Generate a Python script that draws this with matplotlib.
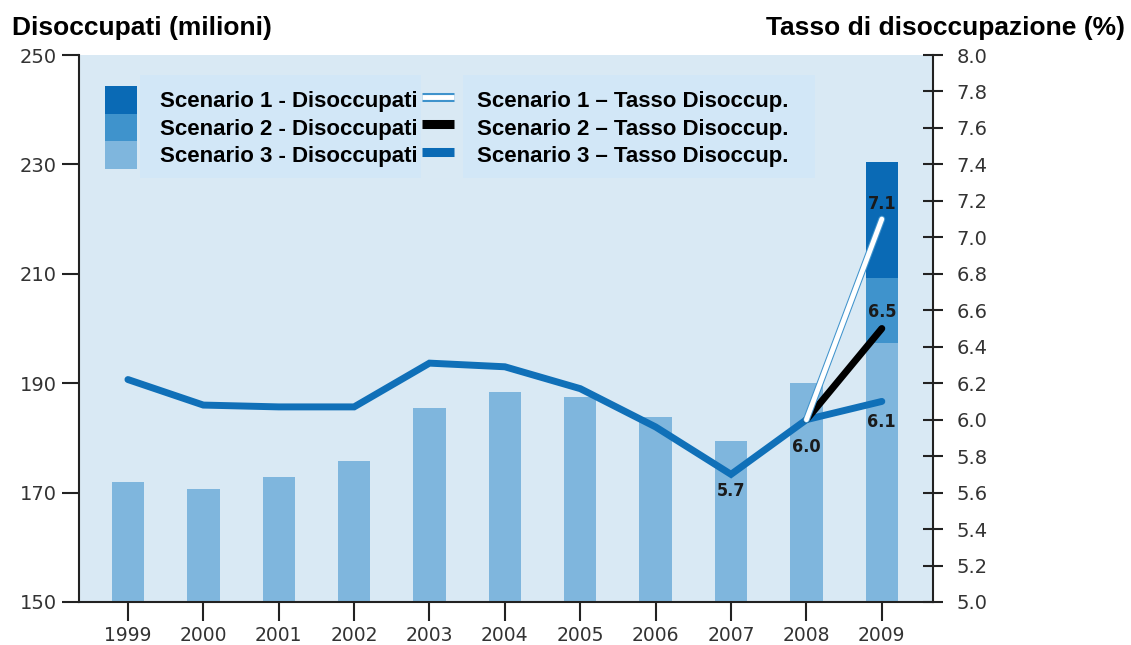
import matplotlib
matplotlib.use("Agg")
import matplotlib.pyplot as plt
import matplotlib.patheffects as pe
from matplotlib.patches import Patch, Rectangle
from matplotlib.lines import Line2D

# dati
anni = ['1999', '2000', '2001', '2002', '2003', '2004', '2005', '2006', '2007', '2008', '2009']
disocc_s3 = [172.0, 170.6, 172.8, 175.7, 185.4, 188.3, 187.4, 183.8, 179.5, 190.1, 197.4]
disocc_s2_2009 = 209.3
disocc_s1_2009 = 230.4
tasso_s3 = [6.22, 6.08, 6.07, 6.07, 6.31, 6.29, 6.17, 5.96, 5.70, 6.00, 6.10]
tasso_s2 = [6.00, 6.50]   # 2008-2009
tasso_s1 = [6.00, 7.10]   # 2008-2009

bg = '#d9e9f4'
boxbg = '#d2e7f7'
c1 = '#0a6ab5'
c2 = '#3f93cc'
c3 = '#7fb6dd'
cline = '#1070b8'
ink = '#222222'

fig = plt.figure(figsize=(11.31, 6.45), dpi=100)
ax = fig.add_axes([0.0698, 0.0667, 0.7552, 0.848])
ax.set_facecolor(bg)

# riquadri chiari dietro la legenda
ax.add_patch(Rectangle((0.0714, 0.775), 0.3286, 0.188, transform=ax.transAxes,
                       facecolor=boxbg, edgecolor='none', zorder=1))
ax.add_patch(Rectangle((0.4497, 0.775), 0.4121, 0.188, transform=ax.transAxes,
                       facecolor=boxbg, edgecolor='none', zorder=1))

x = list(range(len(anni)))
w = 0.43
ax.bar(x[-1], disocc_s1_2009, width=w, color=c1, zorder=2)
ax.bar(x[-1], disocc_s2_2009, width=w, color=c2, zorder=2)
ax.bar(x, disocc_s3, width=w, color=c3, zorder=2)

ax.set_xlim(-0.65, 10.68)
ax.set_ylim(150, 250)
ax.set_yticks([150, 170, 190, 210, 230, 250])
ax.set_xticks(x)
ax.set_xticklabels(anni)
ax.tick_params(axis='y', direction='out', length=12, width=1.5, color=ink,
               labelsize=14, labelcolor='#333333', pad=4)
ax.tick_params(axis='x', direction='out', length=14, width=1.5, color=ink,
               labelsize=13.5, labelcolor='#333333', pad=3)
for s in ['top', 'right']:
    ax.spines[s].set_visible(False)
for s in ['left', 'bottom']:
    ax.spines[s].set_linewidth(1.5)
    ax.spines[s].set_color(ink)

ax2 = ax.twinx()
ax2.set_ylim(5.0, 8.0)
ax2.set_yticks([5.0 + 0.2 * i for i in range(16)])
ax2.set_yticklabels(['%.1f' % (5.0 + 0.2 * i) for i in range(16)])
ax2.tick_params(axis='y', direction='inout', length=14, width=1.5, color=ink,
                labelsize=14, labelcolor='#333333', pad=10)
for s in ['top', 'left', 'bottom']:
    ax2.spines[s].set_visible(False)
ax2.spines['right'].set_linewidth(1.5)
ax2.spines['right'].set_color(ink)

ax2.plot(x, tasso_s3, color=cline, lw=5, solid_capstyle='round',
         solid_joinstyle='miter', zorder=3)
ax2.plot(x[-2:], tasso_s2, color='black', lw=5, solid_capstyle='round', zorder=4)
ax2.plot(x[-2:], tasso_s1, color='white', lw=3.5, solid_capstyle='round', zorder=5,
         path_effects=[pe.Stroke(linewidth=5, foreground=c2), pe.Normal()])

lab_font = dict(fontsize=13, fontweight='bold', color='#1a1a1a', fontstretch='condensed',
                family=['Liberation Sans Narrow', 'DejaVu Sans'])
etichette = [(10, tasso_s1[1], '7.1', 15), (10, tasso_s2[1], '6.5', 16),
             (10, tasso_s3[10], '6.1', -21), (9, tasso_s3[9], '6.0', -27),
             (8, tasso_s3[8], '5.7', -17)]
for xi, yi, t, dy in etichette:
    ax2.annotate(t, (xi, yi), xytext=(0, dy), textcoords='offset pixels',
                 ha='center', va='center', zorder=6, **lab_font)

handles = [
    Patch(facecolor=c1, edgecolor='none'),
    Patch(facecolor=c2, edgecolor='none'),
    Patch(facecolor=c3, edgecolor='none'),
    (Line2D([], [], color=c2, lw=6.5, solid_capstyle='butt'),
     Line2D([], [], color='white', lw=3.5, solid_capstyle='butt')),
    Line2D([], [], color='black', lw=6.5, solid_capstyle='butt'),
    Line2D([], [], color=c1, lw=6.5, solid_capstyle='butt'),
]
labels = ['Scenario 1 - Disoccupati', 'Scenario 2 - Disoccupati', 'Scenario 3 - Disoccupati',
          'Scenario 1 \u2013 Tasso Disoccup.', 'Scenario 2 \u2013 Tasso Disoccup.',
          'Scenario 3 \u2013 Tasso Disoccup.']
leg = ax2.legend(handles, labels, ncol=2, loc='upper left', bbox_to_anchor=(0.030, 0.943),
                 frameon=False, borderpad=0, borderaxespad=0, labelspacing=0,
                 handleheight=1.53, handlelength=1.44, handletextpad=1.04,
                 columnspacing=0.2,
                 prop=dict(family='Liberation Sans', weight='bold', size=16))
leg.set_zorder(7)

fig.text(0.011, 0.957, 'Disoccupati (milioni)', fontsize=19, fontweight='bold',
         family='Liberation Sans', va='center', ha='left')
fig.text(0.995, 0.957, 'Tasso di disoccupazione (%)', fontsize=19, fontweight='bold',
         family='Liberation Sans', va='center', ha='right')

fig.savefig('out.png', dpi=100)
